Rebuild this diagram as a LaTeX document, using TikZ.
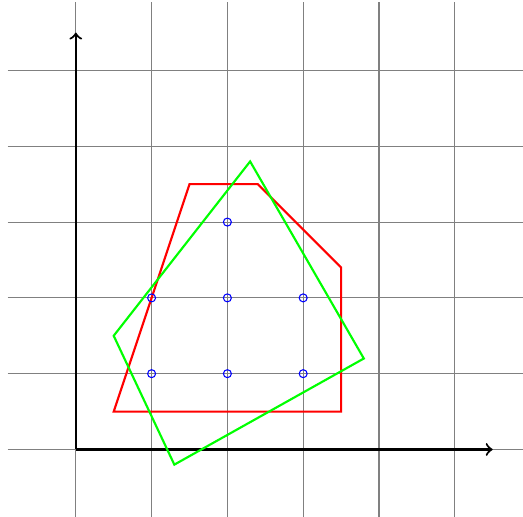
\documentclass[tikz,border=0pt]{standalone}
\usepackage{xcolor}
\usepackage{tikz}
\usetikzlibrary{arrows.meta}

\begin{document}
\begin{tikzpicture}[font=\small, >=to]
  \useasboundingbox (-1.0,-0.885) rectangle (5.9,5.93);
  \draw[help lines, gray, thin] (-0.9,-0.9) grid (5.9,5.9);
  \draw[->, thick] (0,0) -- (5.5,0);
  \draw[->, thick] (0,0) -- (0,5.5);
  \draw[thick, red] (0.5,0.5) -- (1.5,3.5) -- (2.4,3.5) -- (3.5,2.4) -- (3.5,0.5) -- cycle;
  \draw[thick, green] (0.5,1.5) -- (2.3,3.8) -- (3.8,1.2) -- (1.3,-0.2) -- cycle;
  \foreach \x/\y in {1/1, 2/1, 3/1, 1/2, 2/2, 3/2, 2/3}
    \draw[blue] (\x,\y) circle (1.5pt);
\end{tikzpicture}
\end{document}
